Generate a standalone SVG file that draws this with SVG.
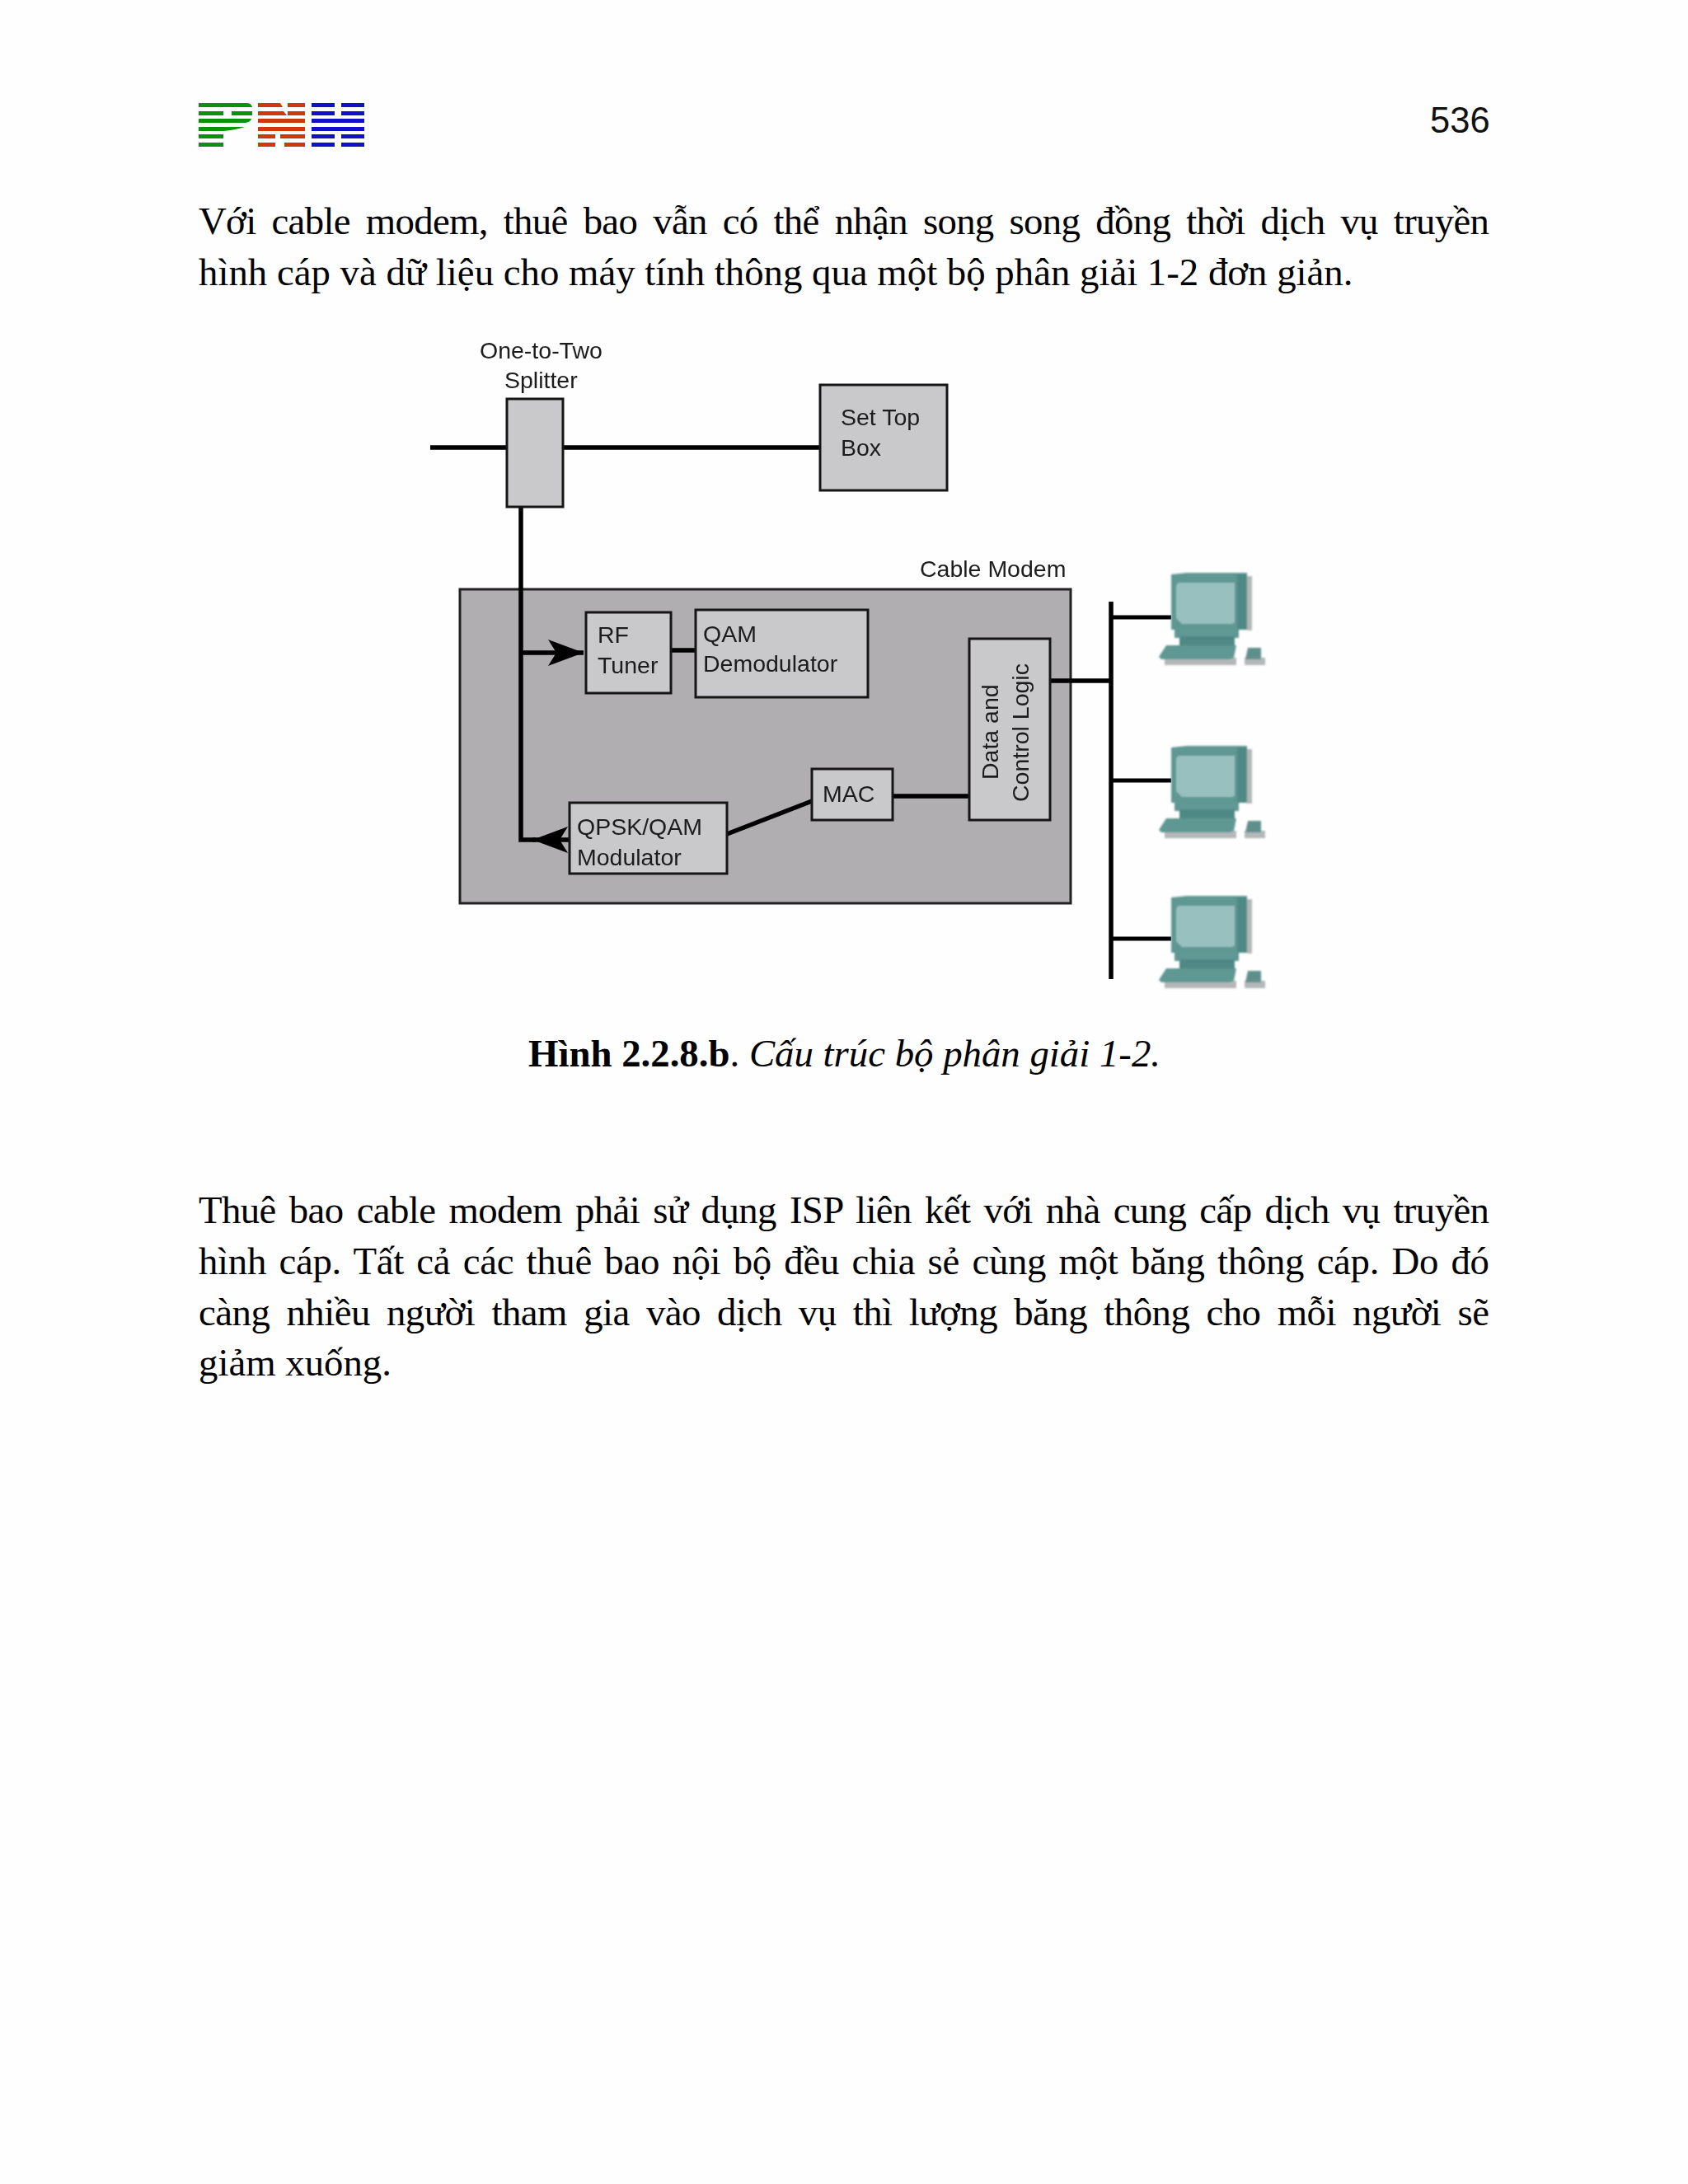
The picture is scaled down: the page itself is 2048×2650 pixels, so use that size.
<svg xmlns="http://www.w3.org/2000/svg" xmlns:xlink="http://www.w3.org/1999/xlink" width="2048" height="2650" viewBox="0 0 2048 2650">
<style>
.body{font-family:"Liberation Serif","Times New Roman",serif;font-size:46.8px;fill:#000}
.num{font-family:"Liberation Sans",Arial,sans-serif;font-size:43.5px;fill:#111}
.lbl{font-family:"Liberation Sans",Arial,sans-serif;font-size:28.5px;fill:#1c1c1c}
.box{fill:#c9c8ca;stroke:#161616;stroke-width:3}
.modem{fill:#b0aeb0;stroke:#222;stroke-width:3}
.wire{fill:none;stroke:#000;stroke-width:5.5}
.thin{fill:none;stroke:#000;stroke-width:5}
.g{fill:#0b920b}.r{fill:#cc3a0a}.b{fill:#1010c4}
</style>
<defs>
<marker id="barb" markerUnits="userSpaceOnUse" markerWidth="46" markerHeight="34" refX="43" refY="16" orient="auto" overflow="visible">
<path d="M0,0 L43,16 L0,32 L10,16 Z" fill="#000"/>
</marker>
<filter id="soft" x="-5%" y="-5%" width="110%" height="110%"><feGaussianBlur stdDeviation="0.7"/></filter>
<filter id="softer" x="-10%" y="-10%" width="120%" height="120%"><feGaussianBlur stdDeviation="1.1"/></filter>
<g id="pc" filter="url(#softer)">
<path d="M1513,699 H1519 V765 H1513 Z M1413,798 H1500 V807 H1413 Z M1510,798 H1535 V807 H1510 Z" fill="#b4b7b7"/>
<path d="M1421,697 L1440,695 H1513 V764 H1421 Z" fill="#5f9792"/>
<path d="M1501,697 H1513 V764 H1501 Z" fill="#4f8985"/>
<path d="M1427,712 Q1427,707 1432,707 H1498 V754 Q1498,757 1494,757 H1434 L1427,750 Z" fill="#98c0bf"/>
<path d="M1425,764 H1503 V774 H1425 Z" fill="#609894"/>
<path d="M1431,772 H1498 V784 H1431 Z" fill="#4f8985"/>
<path d="M1415,783 H1500 L1497,798 L1492,800 H1409 L1406,797 Z" fill="#5f9792"/>
<path d="M1514,786 H1530 V800 H1511 Z" fill="#5f8f8b"/>
</g>
</defs>
<rect id="page" width="2048" height="2650" fill="#fefefe"/>

<g id="logo">
<path class="g" d="M241,125 H299 Q305,125 306,130 H241 Z M241,135 H271 V140 H241 Z M281,135 H306 V140 H281 Z M241,144 H305 Q304,148 298,149 H271 V149 H241 Z M241,154 H297 Q285,158 271,159 H241 Z M241,163 H271 V168 H241 Z M241,173 H271 V178 H241 Z"/>
<path class="r" d="M313,125 H340 L343,130 H313 Z M349,125 H370 V130 H349 Z M313,135 H344 L348,140 H313 Z M349,135 H370 V140 H349 Z M313,144 H370 V149 H313 Z M313,154 H370 V159 H313 Z M313,163 H334 V168 H313 Z M340,163 H370 V168 H340 Z M313,173 H334 V178 H313 Z M345,173 H370 V178 H345 Z"/>
<path class="b" d="M378,125 H406 V130 H378 Z M414,125 H442 V130 H414 Z M378,135 H406 V140 H378 Z M414,135 H442 V140 H414 Z M378,144 H442 V149 H378 Z M378,154 H442 V159 H378 Z M378,163 H406 V168 H378 Z M414,163 H442 V168 H414 Z M378,173 H406 V178 H378 Z M414,173 H442 V178 H414 Z"/>
</g>
<text id="page-number" class="num" x="1735" y="161">536</text>

<g id="para-1" class="body">
<text x="241" y="284" word-spacing="8" textLength="1566">Với cable modem, thuê bao vẫn có thể nhận song song đồng thời dịch vụ truyền</text>
<text x="241" y="346">hình cáp và dữ liệu cho máy tính thông qua một bộ phân giải 1-2 đơn giản.</text>
</g>

<g id="diagram" filter="url(#soft)">
<g id="cable-modem"><rect class="modem" x="558" y="715" width="741" height="381"/><text class="lbl" x="1116" y="700">Cable Modem</text></g>

<g id="connectors">
<path class="wire" d="M522,543 H615 M684,543 H995"/>
<path class="wire" d="M632,616 V1019 H650"/>
<path class="wire" d="M632,792 H708" marker-end="url(#barb)"/>
<path class="wire" d="M691,1019 H646" marker-end="url(#barb)"/>
<path class="wire" d="M814,789 H844"/>
<path class="wire" d="M882,1012 L985,972"/>
<path class="wire" d="M1083,966 H1176"/>
<path class="wire" d="M1274,826 H1348"/>
<path class="wire" d="M1348,730 V1188"/>
<path class="thin" d="M1348,749 H1421 M1348,947 H1421 M1348,1139 H1421"/>
</g>

<g id="splitter"><rect class="box" x="615" y="484" width="68" height="131"/><text class="lbl" x="582" y="435">One-to-Two</text><text class="lbl" x="612" y="471">Splitter</text></g>
<g id="set-top-box"><rect class="box" x="995" y="467" width="154" height="128"/><text class="lbl" x="1020" y="516">Set Top</text><text class="lbl" x="1020" y="553">Box</text></g>
<g id="rf-tuner"><rect class="box" x="711" y="743" width="103" height="98"/><text class="lbl" x="725" y="780">RF</text><text class="lbl" x="725" y="817">Tuner</text></g>
<g id="qam-demodulator"><rect class="box" x="844" y="740" width="209" height="106"/><text class="lbl" x="853" y="779">QAM</text><text class="lbl" x="853" y="815">Demodulator</text></g>
<g id="qpsk-modulator"><rect class="box" x="691" y="974" width="191" height="86"/><text class="lbl" x="700" y="1013">QPSK/QAM</text><text class="lbl" x="700" y="1050">Modulator</text></g>
<g id="mac"><rect class="box" x="985" y="933" width="98" height="62"/><text class="lbl" x="998" y="973">MAC</text></g>
<g id="data-control"><rect class="box" x="1176" y="775" width="98" height="220"/><text class="lbl" transform="translate(1211,946) rotate(-90)">Data and</text><text class="lbl" transform="translate(1248,973) rotate(-90)">Control Logic</text></g>

<g id="pc-1"><use href="#pc" xlink:href="#pc"/></g>
<g id="pc-2"><use href="#pc" xlink:href="#pc" y="210"/></g>
<g id="pc-3"><use href="#pc" xlink:href="#pc" y="392"/></g>
</g>

<text id="caption" class="body" x="641" y="1294"><tspan font-weight="bold">Hình 2.2.8.b</tspan>. <tspan font-style="italic">Cấu trúc bộ phân giải 1-2.</tspan></text>

<g id="para-2" class="body">
<text x="241" y="1484" word-spacing="5" textLength="1566">Thuê bao cable modem phải sử dụng ISP liên kết với nhà cung cấp dịch vụ truyền</text>
<text x="241" y="1546" word-spacing="4" textLength="1566">hình cáp. Tất cả các thuê bao nội bộ đều chia sẻ cùng một băng thông cáp. Do đó</text>
<text x="241" y="1608" word-spacing="9" textLength="1566">càng nhiều người tham gia vào dịch vụ thì lượng băng thông cho mỗi người sẽ</text>
<text x="241" y="1669">giảm xuống.</text>
</g>
</svg>
